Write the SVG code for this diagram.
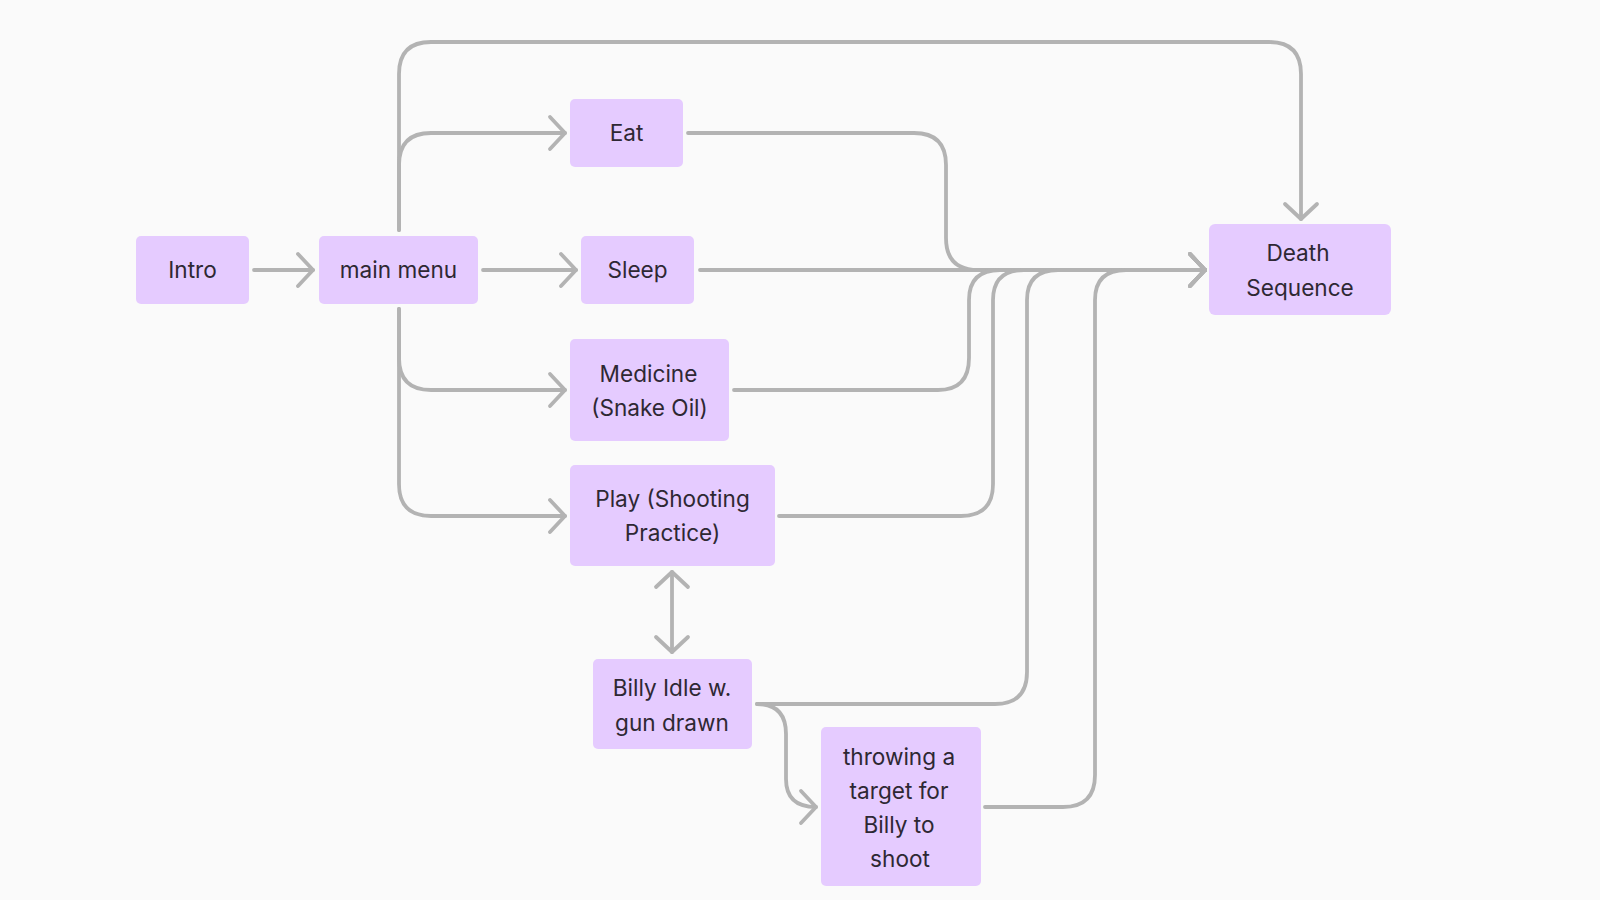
<svg xmlns="http://www.w3.org/2000/svg" width="1600" height="900" viewBox="0 0 1600 900">
<style>
.bg{fill:#fafafa}
.box{fill:#e5cbff}
.t{font-family:Inter,"Noto Sans","Liberation Sans",sans-serif;font-size:22.6px;fill:#2e2833;text-anchor:middle}
.c{fill:none;stroke:#b3b3b3;stroke-width:3.8;stroke-linecap:round;stroke-linejoin:round}
</style>
<defs>
<marker id="ah" markerUnits="userSpaceOnUse" markerWidth="40" markerHeight="40" viewBox="-20 -20 40 40" refX="0" refY="0" orient="auto-start-reverse">
<path d="M-15,-16 L0,0 L-15,16" fill="none" stroke="#b3b3b3" stroke-width="3.8" stroke-linecap="round" stroke-linejoin="round"/>
</marker>
</defs>
<rect class="bg" x="0" y="0" width="1600" height="900"/>
<g id="connectors">
<path class="c" d="M254,270 H313" marker-end="url(#ah)"/>
<path class="c" d="M399,230 V74 Q399,42 431,42 H1269 Q1301,42 1301,74 V219" marker-end="url(#ah)"/>
<path class="c" d="M399,230 V165 Q399,133 431,133 H565" marker-end="url(#ah)"/>
<path class="c" d="M483,270 H576" marker-end="url(#ah)"/>
<path class="c" d="M399,309 V358 Q399,390 431,390 H565" marker-end="url(#ah)"/>
<path class="c" d="M399,309 V484 Q399,516 431,516 H565" marker-end="url(#ah)"/>
<path class="c" d="M688,133 H914 Q946,133 946,165 V238 Q946,270 978,270 H1205" marker-end="url(#ah)"/>
<path class="c" d="M700,270 H1205" marker-end="url(#ah)"/>
<path class="c" d="M734,390 H938 Q969,390 969,358 V300 Q969,270 1000,270 H1205" marker-end="url(#ah)"/>
<path class="c" d="M779,516 H961 Q993,516 993,484 V300 Q993,270 1024,270 H1205" marker-end="url(#ah)"/>
<path class="c" d="M757,704 H995 Q1027,704 1027,672 V300 Q1027,270 1058,270 H1205" marker-end="url(#ah)"/>
<path class="c" d="M985,807 H1063 Q1095,807 1095,775 V300 Q1095,270 1126,270 H1205" marker-end="url(#ah)"/>
<path class="c" d="M757,704 Q786,704 786,734 V779 Q786,807 816,807" marker-end="url(#ah)"/>
<path class="c" d="M672,572 V652" marker-start="url(#ah)" marker-end="url(#ah)"/>
</g>
<g id="intro"><rect class="box" x="136" y="236" width="113" height="68" rx="5"/><text class="t" x="192.5" y="278">Intro</text></g>
<g id="main-menu"><rect class="box" x="319" y="236" width="159" height="68" rx="5"/><text class="t" x="398.5" y="278">main menu</text></g>
<g id="eat"><rect class="box" x="570" y="99" width="113" height="68" rx="5"/><text class="t" x="626.5" y="141">Eat</text></g>
<g id="sleep"><rect class="box" x="581" y="236" width="113" height="68" rx="5"/><text class="t" x="637.5" y="278">Sleep</text></g>
<g id="medicine"><rect class="box" x="570" y="339" width="159" height="102" rx="5"/><text class="t" x="648.5" y="381.5">Medicine</text><text class="t" x="649.5" y="415.5">(Snake Oil)</text></g>
<g id="play"><rect class="box" x="570" y="465" width="205" height="101" rx="5"/><text class="t" x="672.5" y="507">Play (Shooting</text><text class="t" x="672.5" y="541">Practice)</text></g>
<g id="billy"><rect class="box" x="593" y="659" width="159" height="90" rx="5"/><text class="t" x="672" y="695.5">Billy Idle w.</text><text class="t" x="672" y="730.5">gun drawn</text></g>
<g id="throwing"><rect class="box" x="821" y="727" width="160" height="159" rx="5"/><text class="t" x="899" y="765">throwing a</text><text class="t" x="899" y="799">target for</text><text class="t" x="899" y="833">Billy to</text><text class="t" x="900" y="867">shoot</text></g>
<g id="death"><rect class="box" x="1209" y="224" width="182" height="91" rx="6"/><text class="t" x="1298" y="261">Death</text><text class="t" x="1300" y="296">Sequence</text></g>
</svg>
